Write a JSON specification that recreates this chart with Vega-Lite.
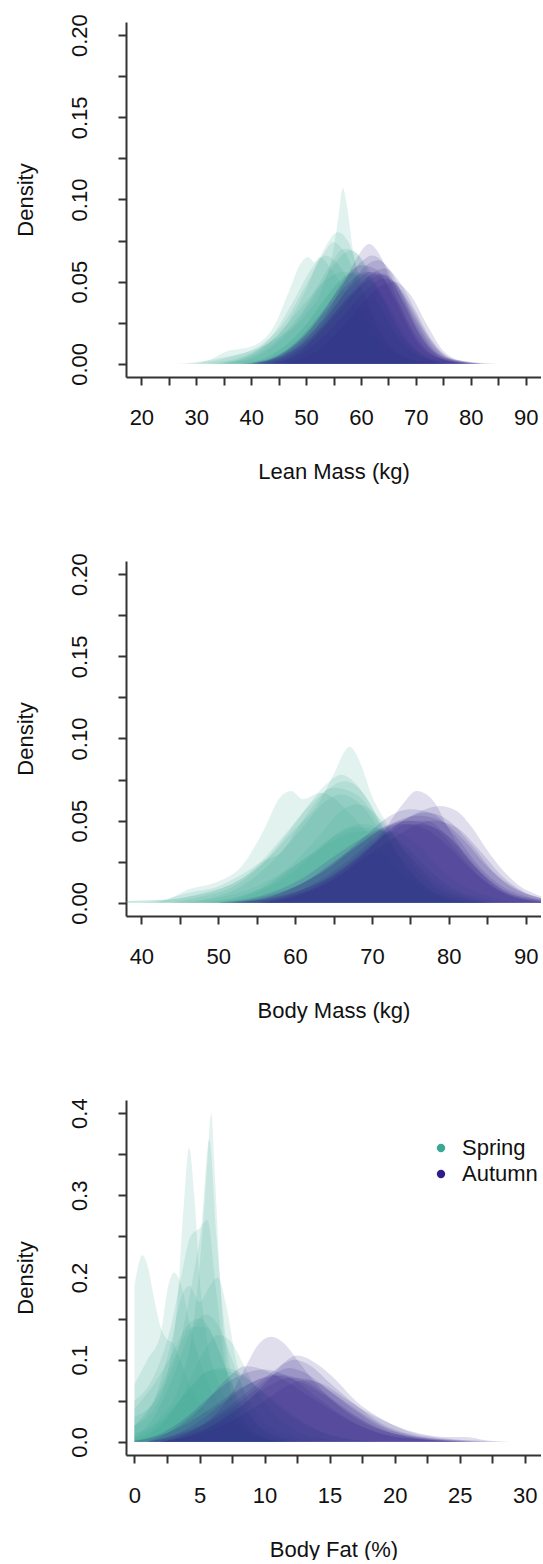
{
"$schema": "https://vega.github.io/schema/vega-lite/v6.json",
"background": "white",
"padding": {"left": 14, "top": 13, "right": 0, "bottom": 0},
"spacing": 184,
"bounds": "flush",
"resolve": {"scale": {"color": "independent", "x": "independent", "y": "independent"}, "legend": {"color": "independent"}},
"datasets": {
"lean": [
{"id":"S1","season":"Spring","x":26,"d":0},{"id":"S1","season":"Spring","x":30,"d":0.001},{"id":"S1","season":"Spring","x":35,"d":0.004},{"id":"S1","season":"Spring","x":40,"d":0.008},{"id":"S1","season":"Spring","x":45,"d":0.016},{"id":"S1","season":"Spring","x":50,"d":0.03},{"id":"S1","season":"Spring","x":53,"d":0.046},{"id":"S1","season":"Spring","x":55,"d":0.07},{"id":"S1","season":"Spring","x":56,"d":0.092},{"id":"S1","season":"Spring","x":56.7,"d":0.107},{"id":"S1","season":"Spring","x":57.5,"d":0.095},{"id":"S1","season":"Spring","x":58.5,"d":0.07},{"id":"S1","season":"Spring","x":60,"d":0.048},{"id":"S1","season":"Spring","x":62,"d":0.034},{"id":"S1","season":"Spring","x":65,"d":0.02},{"id":"S1","season":"Spring","x":68,"d":0.01},{"id":"S1","season":"Spring","x":72,"d":0.004},{"id":"S1","season":"Spring","x":78,"d":0.001},{"id":"S1","season":"Spring","x":82,"d":0},
{"id":"S2","season":"Spring","x":28,"d":0},{"id":"S2","season":"Spring","x":32,"d":0.002},{"id":"S2","season":"Spring","x":36,"d":0.008},{"id":"S2","season":"Spring","x":38,"d":0.009},{"id":"S2","season":"Spring","x":41,"d":0.012},{"id":"S2","season":"Spring","x":44,"d":0.022},{"id":"S2","season":"Spring","x":47,"d":0.045},{"id":"S2","season":"Spring","x":49,"d":0.061},{"id":"S2","season":"Spring","x":50.4,"d":0.065},{"id":"S2","season":"Spring","x":51.5,"d":0.062},{"id":"S2","season":"Spring","x":52.5,"d":0.065},{"id":"S2","season":"Spring","x":54.5,"d":0.058},{"id":"S2","season":"Spring","x":57,"d":0.045},{"id":"S2","season":"Spring","x":60,"d":0.03},{"id":"S2","season":"Spring","x":63,"d":0.015},{"id":"S2","season":"Spring","x":66,"d":0.007},{"id":"S2","season":"Spring","x":70,"d":0.002},{"id":"S2","season":"Spring","x":75,"d":0},
{"id":"S3","season":"Spring","x":32,"d":0},{"id":"S3","season":"Spring","x":38,"d":0.004},{"id":"S3","season":"Spring","x":42,"d":0.01},{"id":"S3","season":"Spring","x":46,"d":0.022},{"id":"S3","season":"Spring","x":50,"d":0.045},{"id":"S3","season":"Spring","x":53,"d":0.068},{"id":"S3","season":"Spring","x":55.8,"d":0.08},{"id":"S3","season":"Spring","x":58,"d":0.072},{"id":"S3","season":"Spring","x":60,"d":0.05},{"id":"S3","season":"Spring","x":62,"d":0.03},{"id":"S3","season":"Spring","x":65,"d":0.012},{"id":"S3","season":"Spring","x":68,"d":0.004},{"id":"S3","season":"Spring","x":72,"d":0},
{"id":"S4","season":"Spring","x":30,"d":0},{"id":"S4","season":"Spring","x":36,"d":0.004},{"id":"S4","season":"Spring","x":42,"d":0.012},{"id":"S4","season":"Spring","x":46,"d":0.025},{"id":"S4","season":"Spring","x":50,"d":0.048},{"id":"S4","season":"Spring","x":53,"d":0.066},{"id":"S4","season":"Spring","x":55,"d":0.074},{"id":"S4","season":"Spring","x":57,"d":0.068},{"id":"S4","season":"Spring","x":60,"d":0.045},{"id":"S4","season":"Spring","x":63,"d":0.022},{"id":"S4","season":"Spring","x":66,"d":0.008},{"id":"S4","season":"Spring","x":70,"d":0.002},{"id":"S4","season":"Spring","x":74,"d":0},
{"id":"S5","season":"Spring","x":34,"d":0},{"id":"S5","season":"Spring","x":40,"d":0.006},{"id":"S5","season":"Spring","x":44,"d":0.018},{"id":"S5","season":"Spring","x":48,"d":0.04},{"id":"S5","season":"Spring","x":51,"d":0.058},{"id":"S5","season":"Spring","x":53.5,"d":0.066},{"id":"S5","season":"Spring","x":56,"d":0.06},{"id":"S5","season":"Spring","x":59,"d":0.042},{"id":"S5","season":"Spring","x":62,"d":0.022},{"id":"S5","season":"Spring","x":65,"d":0.008},{"id":"S5","season":"Spring","x":70,"d":0},
{"id":"S6","season":"Spring","x":35,"d":0},{"id":"S6","season":"Spring","x":40,"d":0.004},{"id":"S6","season":"Spring","x":45,"d":0.015},{"id":"S6","season":"Spring","x":50,"d":0.035},{"id":"S6","season":"Spring","x":54,"d":0.058},{"id":"S6","season":"Spring","x":57,"d":0.07},{"id":"S6","season":"Spring","x":59,"d":0.068},{"id":"S6","season":"Spring","x":62,"d":0.05},{"id":"S6","season":"Spring","x":65,"d":0.028},{"id":"S6","season":"Spring","x":68,"d":0.012},{"id":"S6","season":"Spring","x":72,"d":0.003},{"id":"S6","season":"Spring","x":76,"d":0},
{"id":"S7","season":"Spring","x":36,"d":0},{"id":"S7","season":"Spring","x":42,"d":0.006},{"id":"S7","season":"Spring","x":47,"d":0.02},{"id":"S7","season":"Spring","x":51,"d":0.038},{"id":"S7","season":"Spring","x":55,"d":0.06},{"id":"S7","season":"Spring","x":58,"d":0.069},{"id":"S7","season":"Spring","x":61,"d":0.06},{"id":"S7","season":"Spring","x":64,"d":0.04},{"id":"S7","season":"Spring","x":67,"d":0.02},{"id":"S7","season":"Spring","x":70,"d":0.008},{"id":"S7","season":"Spring","x":75,"d":0},
{"id":"S8","season":"Spring","x":33,"d":0},{"id":"S8","season":"Spring","x":40,"d":0.005},{"id":"S8","season":"Spring","x":45,"d":0.018},{"id":"S8","season":"Spring","x":50,"d":0.038},{"id":"S8","season":"Spring","x":54,"d":0.052},{"id":"S8","season":"Spring","x":57,"d":0.056},{"id":"S8","season":"Spring","x":60,"d":0.052},{"id":"S8","season":"Spring","x":63,"d":0.038},{"id":"S8","season":"Spring","x":66,"d":0.02},{"id":"S8","season":"Spring","x":70,"d":0.006},{"id":"S8","season":"Spring","x":75,"d":0},
{"id":"S9","season":"Spring","x":38,"d":0},{"id":"S9","season":"Spring","x":44,"d":0.006},{"id":"S9","season":"Spring","x":48,"d":0.016},{"id":"S9","season":"Spring","x":52,"d":0.032},{"id":"S9","season":"Spring","x":55,"d":0.046},{"id":"S9","season":"Spring","x":58,"d":0.055},{"id":"S9","season":"Spring","x":61,"d":0.054},{"id":"S9","season":"Spring","x":64,"d":0.042},{"id":"S9","season":"Spring","x":67,"d":0.025},{"id":"S9","season":"Spring","x":70,"d":0.01},{"id":"S9","season":"Spring","x":74,"d":0.002},{"id":"S9","season":"Spring","x":78,"d":0},
{"id":"S10","season":"Spring","x":40,"d":0},{"id":"S10","season":"Spring","x":45,"d":0.008},{"id":"S10","season":"Spring","x":49,"d":0.02},{"id":"S10","season":"Spring","x":53,"d":0.038},{"id":"S10","season":"Spring","x":56,"d":0.05},{"id":"S10","season":"Spring","x":59,"d":0.056},{"id":"S10","season":"Spring","x":62,"d":0.05},{"id":"S10","season":"Spring","x":65,"d":0.034},{"id":"S10","season":"Spring","x":68,"d":0.016},{"id":"S10","season":"Spring","x":72,"d":0.004},{"id":"S10","season":"Spring","x":76,"d":0},
{"id":"A1","season":"Autumn","x":40,"d":0},{"id":"A1","season":"Autumn","x":45,"d":0.004},{"id":"A1","season":"Autumn","x":50,"d":0.015},{"id":"A1","season":"Autumn","x":54,"d":0.032},{"id":"A1","season":"Autumn","x":57,"d":0.05},{"id":"A1","season":"Autumn","x":59.5,"d":0.066},{"id":"A1","season":"Autumn","x":61.5,"d":0.073},{"id":"A1","season":"Autumn","x":63.5,"d":0.066},{"id":"A1","season":"Autumn","x":66,"d":0.045},{"id":"A1","season":"Autumn","x":69,"d":0.022},{"id":"A1","season":"Autumn","x":72,"d":0.008},{"id":"A1","season":"Autumn","x":76,"d":0.002},{"id":"A1","season":"Autumn","x":80,"d":0},
{"id":"A2","season":"Autumn","x":38,"d":0},{"id":"A2","season":"Autumn","x":44,"d":0.004},{"id":"A2","season":"Autumn","x":49,"d":0.016},{"id":"A2","season":"Autumn","x":53,"d":0.032},{"id":"A2","season":"Autumn","x":57,"d":0.05},{"id":"A2","season":"Autumn","x":60,"d":0.062},{"id":"A2","season":"Autumn","x":62,"d":0.066},{"id":"A2","season":"Autumn","x":64.5,"d":0.06},{"id":"A2","season":"Autumn","x":67,"d":0.042},{"id":"A2","season":"Autumn","x":70,"d":0.022},{"id":"A2","season":"Autumn","x":73,"d":0.008},{"id":"A2","season":"Autumn","x":77,"d":0.002},{"id":"A2","season":"Autumn","x":82,"d":0},
{"id":"A3","season":"Autumn","x":40,"d":0},{"id":"A3","season":"Autumn","x":46,"d":0.006},{"id":"A3","season":"Autumn","x":50,"d":0.016},{"id":"A3","season":"Autumn","x":54,"d":0.03},{"id":"A3","season":"Autumn","x":58,"d":0.048},{"id":"A3","season":"Autumn","x":61,"d":0.06},{"id":"A3","season":"Autumn","x":63,"d":0.063},{"id":"A3","season":"Autumn","x":65.5,"d":0.056},{"id":"A3","season":"Autumn","x":68,"d":0.038},{"id":"A3","season":"Autumn","x":71,"d":0.018},{"id":"A3","season":"Autumn","x":74,"d":0.006},{"id":"A3","season":"Autumn","x":78,"d":0.002},{"id":"A3","season":"Autumn","x":85,"d":0},
{"id":"A4","season":"Autumn","x":42,"d":0},{"id":"A4","season":"Autumn","x":47,"d":0.005},{"id":"A4","season":"Autumn","x":51,"d":0.014},{"id":"A4","season":"Autumn","x":55,"d":0.028},{"id":"A4","season":"Autumn","x":59,"d":0.044},{"id":"A4","season":"Autumn","x":62,"d":0.055},{"id":"A4","season":"Autumn","x":64.5,"d":0.058},{"id":"A4","season":"Autumn","x":67,"d":0.05},{"id":"A4","season":"Autumn","x":70,"d":0.032},{"id":"A4","season":"Autumn","x":73,"d":0.014},{"id":"A4","season":"Autumn","x":76,"d":0.004},{"id":"A4","season":"Autumn","x":80,"d":0.001},{"id":"A4","season":"Autumn","x":85,"d":0},
{"id":"A5","season":"Autumn","x":40,"d":0},{"id":"A5","season":"Autumn","x":45,"d":0.005},{"id":"A5","season":"Autumn","x":50,"d":0.018},{"id":"A5","season":"Autumn","x":54,"d":0.036},{"id":"A5","season":"Autumn","x":57,"d":0.052},{"id":"A5","season":"Autumn","x":60,"d":0.06},{"id":"A5","season":"Autumn","x":63,"d":0.057},{"id":"A5","season":"Autumn","x":66,"d":0.04},{"id":"A5","season":"Autumn","x":69,"d":0.02},{"id":"A5","season":"Autumn","x":72,"d":0.007},{"id":"A5","season":"Autumn","x":76,"d":0.002},{"id":"A5","season":"Autumn","x":80,"d":0},
{"id":"A6","season":"Autumn","x":44,"d":0},{"id":"A6","season":"Autumn","x":49,"d":0.006},{"id":"A6","season":"Autumn","x":53,"d":0.016},{"id":"A6","season":"Autumn","x":57,"d":0.03},{"id":"A6","season":"Autumn","x":61,"d":0.045},{"id":"A6","season":"Autumn","x":64,"d":0.052},{"id":"A6","season":"Autumn","x":66,"d":0.05},{"id":"A6","season":"Autumn","x":69,"d":0.036},{"id":"A6","season":"Autumn","x":72,"d":0.018},{"id":"A6","season":"Autumn","x":75,"d":0.006},{"id":"A6","season":"Autumn","x":79,"d":0.001},{"id":"A6","season":"Autumn","x":84,"d":0},
{"id":"A7","season":"Autumn","x":41,"d":0},{"id":"A7","season":"Autumn","x":46,"d":0.005},{"id":"A7","season":"Autumn","x":51,"d":0.016},{"id":"A7","season":"Autumn","x":55,"d":0.03},{"id":"A7","season":"Autumn","x":59,"d":0.046},{"id":"A7","season":"Autumn","x":62,"d":0.054},{"id":"A7","season":"Autumn","x":64,"d":0.055},{"id":"A7","season":"Autumn","x":67,"d":0.045},{"id":"A7","season":"Autumn","x":70,"d":0.026},{"id":"A7","season":"Autumn","x":73,"d":0.01},{"id":"A7","season":"Autumn","x":77,"d":0.002},{"id":"A7","season":"Autumn","x":82,"d":0},
{"id":"A8","season":"Autumn","x":39,"d":0},{"id":"A8","season":"Autumn","x":45,"d":0.005},{"id":"A8","season":"Autumn","x":50,"d":0.018},{"id":"A8","season":"Autumn","x":54,"d":0.034},{"id":"A8","season":"Autumn","x":58,"d":0.05},{"id":"A8","season":"Autumn","x":61,"d":0.056},{"id":"A8","season":"Autumn","x":64,"d":0.052},{"id":"A8","season":"Autumn","x":67,"d":0.036},{"id":"A8","season":"Autumn","x":70,"d":0.018},{"id":"A8","season":"Autumn","x":73,"d":0.006},{"id":"A8","season":"Autumn","x":77,"d":0.001},{"id":"A8","season":"Autumn","x":80,"d":0},
{"id":"A9","season":"Autumn","x":42,"d":0},{"id":"A9","season":"Autumn","x":47,"d":0.006},{"id":"A9","season":"Autumn","x":52,"d":0.02},{"id":"A9","season":"Autumn","x":56,"d":0.038},{"id":"A9","season":"Autumn","x":59,"d":0.05},{"id":"A9","season":"Autumn","x":62,"d":0.056},{"id":"A9","season":"Autumn","x":65,"d":0.052},{"id":"A9","season":"Autumn","x":68,"d":0.036},{"id":"A9","season":"Autumn","x":71,"d":0.016},{"id":"A9","season":"Autumn","x":74,"d":0.005},{"id":"A9","season":"Autumn","x":78,"d":0},
{"id":"A10","season":"Autumn","x":44,"d":0},{"id":"A10","season":"Autumn","x":49,"d":0.008},{"id":"A10","season":"Autumn","x":53,"d":0.022},{"id":"A10","season":"Autumn","x":57,"d":0.038},{"id":"A10","season":"Autumn","x":61,"d":0.05},{"id":"A10","season":"Autumn","x":64,"d":0.054},{"id":"A10","season":"Autumn","x":67,"d":0.046},{"id":"A10","season":"Autumn","x":70,"d":0.028},{"id":"A10","season":"Autumn","x":73,"d":0.012},{"id":"A10","season":"Autumn","x":76,"d":0.003},{"id":"A10","season":"Autumn","x":80,"d":0},
{"id":"A11","season":"Autumn","x":46,"d":0},{"id":"A11","season":"Autumn","x":52,"d":0.008},{"id":"A11","season":"Autumn","x":56,"d":0.02},{"id":"A11","season":"Autumn","x":60,"d":0.036},{"id":"A11","season":"Autumn","x":63,"d":0.046},{"id":"A11","season":"Autumn","x":66,"d":0.05},{"id":"A11","season":"Autumn","x":69,"d":0.042},{"id":"A11","season":"Autumn","x":72,"d":0.024},{"id":"A11","season":"Autumn","x":75,"d":0.008},{"id":"A11","season":"Autumn","x":78,"d":0.002},{"id":"A11","season":"Autumn","x":82,"d":0}
],
"body": [
{"id":"S1","season":"Spring","x":36,"d":0.001},{"id":"S1","season":"Spring","x":44,"d":0.002},{"id":"S1","season":"Spring","x":48,"d":0.006},{"id":"S1","season":"Spring","x":52,"d":0.012},{"id":"S1","season":"Spring","x":56,"d":0.025},{"id":"S1","season":"Spring","x":60,"d":0.045},{"id":"S1","season":"Spring","x":63,"d":0.06},{"id":"S1","season":"Spring","x":65,"d":0.078},{"id":"S1","season":"Spring","x":67.1,"d":0.095},{"id":"S1","season":"Spring","x":68.5,"d":0.085},{"id":"S1","season":"Spring","x":70,"d":0.065},{"id":"S1","season":"Spring","x":72,"d":0.048},{"id":"S1","season":"Spring","x":75,"d":0.025},{"id":"S1","season":"Spring","x":78,"d":0.01},{"id":"S1","season":"Spring","x":82,"d":0.003},{"id":"S1","season":"Spring","x":86,"d":0},
{"id":"S2","season":"Spring","x":36,"d":0.001},{"id":"S2","season":"Spring","x":43,"d":0.002},{"id":"S2","season":"Spring","x":46,"d":0.008},{"id":"S2","season":"Spring","x":50,"d":0.013},{"id":"S2","season":"Spring","x":53,"d":0.022},{"id":"S2","season":"Spring","x":56,"d":0.045},{"id":"S2","season":"Spring","x":58,"d":0.064},{"id":"S2","season":"Spring","x":59.5,"d":0.068},{"id":"S2","season":"Spring","x":61,"d":0.063},{"id":"S2","season":"Spring","x":63.3,"d":0.067},{"id":"S2","season":"Spring","x":65,"d":0.064},{"id":"S2","season":"Spring","x":67,"d":0.055},{"id":"S2","season":"Spring","x":69,"d":0.045},{"id":"S2","season":"Spring","x":72,"d":0.028},{"id":"S2","season":"Spring","x":75,"d":0.014},{"id":"S2","season":"Spring","x":78,"d":0.005},{"id":"S2","season":"Spring","x":82,"d":0.001},{"id":"S2","season":"Spring","x":86,"d":0},
{"id":"S3","season":"Spring","x":40,"d":0},{"id":"S3","season":"Spring","x":45,"d":0.003},{"id":"S3","season":"Spring","x":50,"d":0.008},{"id":"S3","season":"Spring","x":54,"d":0.018},{"id":"S3","season":"Spring","x":58,"d":0.038},{"id":"S3","season":"Spring","x":61,"d":0.055},{"id":"S3","season":"Spring","x":64,"d":0.072},{"id":"S3","season":"Spring","x":66,"d":0.078},{"id":"S3","season":"Spring","x":68,"d":0.072},{"id":"S3","season":"Spring","x":70,"d":0.058},{"id":"S3","season":"Spring","x":72,"d":0.04},{"id":"S3","season":"Spring","x":75,"d":0.018},{"id":"S3","season":"Spring","x":78,"d":0.006},{"id":"S3","season":"Spring","x":82,"d":0},
{"id":"S4","season":"Spring","x":42,"d":0},{"id":"S4","season":"Spring","x":46,"d":0.006},{"id":"S4","season":"Spring","x":50,"d":0.01},{"id":"S4","season":"Spring","x":54,"d":0.02},{"id":"S4","season":"Spring","x":56,"d":0.026},{"id":"S4","season":"Spring","x":58,"d":0.03},{"id":"S4","season":"Spring","x":61,"d":0.05},{"id":"S4","season":"Spring","x":64,"d":0.068},{"id":"S4","season":"Spring","x":66.5,"d":0.074},{"id":"S4","season":"Spring","x":69,"d":0.066},{"id":"S4","season":"Spring","x":71,"d":0.05},{"id":"S4","season":"Spring","x":74,"d":0.026},{"id":"S4","season":"Spring","x":77,"d":0.01},{"id":"S4","season":"Spring","x":81,"d":0.002},{"id":"S4","season":"Spring","x":85,"d":0},
{"id":"S5","season":"Spring","x":44,"d":0},{"id":"S5","season":"Spring","x":48,"d":0.004},{"id":"S5","season":"Spring","x":52,"d":0.01},{"id":"S5","season":"Spring","x":56,"d":0.025},{"id":"S5","season":"Spring","x":59,"d":0.042},{"id":"S5","season":"Spring","x":62,"d":0.06},{"id":"S5","season":"Spring","x":65,"d":0.07},{"id":"S5","season":"Spring","x":68,"d":0.066},{"id":"S5","season":"Spring","x":71,"d":0.048},{"id":"S5","season":"Spring","x":74,"d":0.025},{"id":"S5","season":"Spring","x":77,"d":0.01},{"id":"S5","season":"Spring","x":81,"d":0.002},{"id":"S5","season":"Spring","x":85,"d":0},
{"id":"S6","season":"Spring","x":48,"d":0},{"id":"S6","season":"Spring","x":52,"d":0.003},{"id":"S6","season":"Spring","x":56,"d":0.01},{"id":"S6","season":"Spring","x":60,"d":0.025},{"id":"S6","season":"Spring","x":63,"d":0.04},{"id":"S6","season":"Spring","x":66,"d":0.056},{"id":"S6","season":"Spring","x":68,"d":0.06},{"id":"S6","season":"Spring","x":70,"d":0.056},{"id":"S6","season":"Spring","x":72,"d":0.046},{"id":"S6","season":"Spring","x":75,"d":0.028},{"id":"S6","season":"Spring","x":78,"d":0.012},{"id":"S6","season":"Spring","x":82,"d":0.003},{"id":"S6","season":"Spring","x":86,"d":0},
{"id":"S7","season":"Spring","x":46,"d":0},{"id":"S7","season":"Spring","x":50,"d":0.003},{"id":"S7","season":"Spring","x":55,"d":0.01},{"id":"S7","season":"Spring","x":59,"d":0.02},{"id":"S7","season":"Spring","x":63,"d":0.032},{"id":"S7","season":"Spring","x":67,"d":0.042},{"id":"S7","season":"Spring","x":70,"d":0.044},{"id":"S7","season":"Spring","x":73,"d":0.043},{"id":"S7","season":"Spring","x":76,"d":0.035},{"id":"S7","season":"Spring","x":79,"d":0.02},{"id":"S7","season":"Spring","x":82,"d":0.01},{"id":"S7","season":"Spring","x":86,"d":0.003},{"id":"S7","season":"Spring","x":90,"d":0},
{"id":"S8","season":"Spring","x":44,"d":0},{"id":"S8","season":"Spring","x":49,"d":0.003},{"id":"S8","season":"Spring","x":53,"d":0.01},{"id":"S8","season":"Spring","x":57,"d":0.025},{"id":"S8","season":"Spring","x":61,"d":0.046},{"id":"S8","season":"Spring","x":64,"d":0.062},{"id":"S8","season":"Spring","x":66,"d":0.066},{"id":"S8","season":"Spring","x":68,"d":0.062},{"id":"S8","season":"Spring","x":71,"d":0.045},{"id":"S8","season":"Spring","x":74,"d":0.024},{"id":"S8","season":"Spring","x":77,"d":0.01},{"id":"S8","season":"Spring","x":81,"d":0.002},{"id":"S8","season":"Spring","x":85,"d":0},
{"id":"S9","season":"Spring","x":48,"d":0},{"id":"S9","season":"Spring","x":53,"d":0.004},{"id":"S9","season":"Spring","x":57,"d":0.012},{"id":"S9","season":"Spring","x":61,"d":0.026},{"id":"S9","season":"Spring","x":65,"d":0.04},{"id":"S9","season":"Spring","x":68,"d":0.046},{"id":"S9","season":"Spring","x":71,"d":0.045},{"id":"S9","season":"Spring","x":74,"d":0.036},{"id":"S9","season":"Spring","x":77,"d":0.022},{"id":"S9","season":"Spring","x":80,"d":0.01},{"id":"S9","season":"Spring","x":84,"d":0.003},{"id":"S9","season":"Spring","x":88,"d":0},
{"id":"S10","season":"Spring","x":50,"d":0},{"id":"S10","season":"Spring","x":55,"d":0.006},{"id":"S10","season":"Spring","x":59,"d":0.016},{"id":"S10","season":"Spring","x":63,"d":0.032},{"id":"S10","season":"Spring","x":66,"d":0.044},{"id":"S10","season":"Spring","x":69,"d":0.048},{"id":"S10","season":"Spring","x":72,"d":0.042},{"id":"S10","season":"Spring","x":75,"d":0.028},{"id":"S10","season":"Spring","x":78,"d":0.014},{"id":"S10","season":"Spring","x":82,"d":0.004},{"id":"S10","season":"Spring","x":86,"d":0},
{"id":"A1","season":"Autumn","x":52,"d":0},{"id":"A1","season":"Autumn","x":58,"d":0.004},{"id":"A1","season":"Autumn","x":62,"d":0.01},{"id":"A1","season":"Autumn","x":66,"d":0.02},{"id":"A1","season":"Autumn","x":70,"d":0.035},{"id":"A1","season":"Autumn","x":74,"d":0.05},{"id":"A1","season":"Autumn","x":77,"d":0.057},{"id":"A1","season":"Autumn","x":78.8,"d":0.059},{"id":"A1","season":"Autumn","x":81,"d":0.056},{"id":"A1","season":"Autumn","x":83,"d":0.046},{"id":"A1","season":"Autumn","x":85,"d":0.032},{"id":"A1","season":"Autumn","x":87,"d":0.02},{"id":"A1","season":"Autumn","x":89,"d":0.011},{"id":"A1","season":"Autumn","x":92,"d":0.004},{"id":"A1","season":"Autumn","x":95,"d":0},
{"id":"A2","season":"Autumn","x":54,"d":0},{"id":"A2","season":"Autumn","x":60,"d":0.005},{"id":"A2","season":"Autumn","x":64,"d":0.012},{"id":"A2","season":"Autumn","x":68,"d":0.025},{"id":"A2","season":"Autumn","x":71,"d":0.04},{"id":"A2","season":"Autumn","x":74,"d":0.06},{"id":"A2","season":"Autumn","x":75.8,"d":0.068},{"id":"A2","season":"Autumn","x":78,"d":0.062},{"id":"A2","season":"Autumn","x":80,"d":0.045},{"id":"A2","season":"Autumn","x":82,"d":0.03},{"id":"A2","season":"Autumn","x":85,"d":0.015},{"id":"A2","season":"Autumn","x":88,"d":0.006},{"id":"A2","season":"Autumn","x":92,"d":0.002},{"id":"A2","season":"Autumn","x":95,"d":0},
{"id":"A3","season":"Autumn","x":50,"d":0},{"id":"A3","season":"Autumn","x":56,"d":0.004},{"id":"A3","season":"Autumn","x":61,"d":0.012},{"id":"A3","season":"Autumn","x":65,"d":0.024},{"id":"A3","season":"Autumn","x":69,"d":0.04},{"id":"A3","season":"Autumn","x":72,"d":0.052},{"id":"A3","season":"Autumn","x":75,"d":0.057},{"id":"A3","season":"Autumn","x":78,"d":0.054},{"id":"A3","season":"Autumn","x":81,"d":0.04},{"id":"A3","season":"Autumn","x":84,"d":0.022},{"id":"A3","season":"Autumn","x":87,"d":0.01},{"id":"A3","season":"Autumn","x":90,"d":0.004},{"id":"A3","season":"Autumn","x":94,"d":0},
{"id":"A4","season":"Autumn","x":52,"d":0},{"id":"A4","season":"Autumn","x":58,"d":0.004},{"id":"A4","season":"Autumn","x":63,"d":0.012},{"id":"A4","season":"Autumn","x":67,"d":0.024},{"id":"A4","season":"Autumn","x":71,"d":0.04},{"id":"A4","season":"Autumn","x":74,"d":0.05},{"id":"A4","season":"Autumn","x":77,"d":0.055},{"id":"A4","season":"Autumn","x":80,"d":0.05},{"id":"A4","season":"Autumn","x":83,"d":0.035},{"id":"A4","season":"Autumn","x":86,"d":0.018},{"id":"A4","season":"Autumn","x":89,"d":0.008},{"id":"A4","season":"Autumn","x":92,"d":0.003},{"id":"A4","season":"Autumn","x":95,"d":0},
{"id":"A5","season":"Autumn","x":50,"d":0},{"id":"A5","season":"Autumn","x":56,"d":0.005},{"id":"A5","season":"Autumn","x":61,"d":0.015},{"id":"A5","season":"Autumn","x":65,"d":0.028},{"id":"A5","season":"Autumn","x":69,"d":0.04},{"id":"A5","season":"Autumn","x":72,"d":0.047},{"id":"A5","season":"Autumn","x":75,"d":0.05},{"id":"A5","season":"Autumn","x":78,"d":0.046},{"id":"A5","season":"Autumn","x":81,"d":0.032},{"id":"A5","season":"Autumn","x":84,"d":0.016},{"id":"A5","season":"Autumn","x":87,"d":0.006},{"id":"A5","season":"Autumn","x":91,"d":0.001},{"id":"A5","season":"Autumn","x":95,"d":0},
{"id":"A6","season":"Autumn","x":52,"d":0},{"id":"A6","season":"Autumn","x":57,"d":0.004},{"id":"A6","season":"Autumn","x":61,"d":0.012},{"id":"A6","season":"Autumn","x":65,"d":0.025},{"id":"A6","season":"Autumn","x":69,"d":0.038},{"id":"A6","season":"Autumn","x":72,"d":0.046},{"id":"A6","season":"Autumn","x":74,"d":0.048},{"id":"A6","season":"Autumn","x":77,"d":0.045},{"id":"A6","season":"Autumn","x":80,"d":0.034},{"id":"A6","season":"Autumn","x":83,"d":0.02},{"id":"A6","season":"Autumn","x":86,"d":0.009},{"id":"A6","season":"Autumn","x":90,"d":0.002},{"id":"A6","season":"Autumn","x":94,"d":0},
{"id":"A7","season":"Autumn","x":50,"d":0},{"id":"A7","season":"Autumn","x":56,"d":0.003},{"id":"A7","season":"Autumn","x":60,"d":0.01},{"id":"A7","season":"Autumn","x":64,"d":0.02},{"id":"A7","season":"Autumn","x":68,"d":0.034},{"id":"A7","season":"Autumn","x":72,"d":0.047},{"id":"A7","season":"Autumn","x":76,"d":0.053},{"id":"A7","season":"Autumn","x":79,"d":0.05},{"id":"A7","season":"Autumn","x":82,"d":0.038},{"id":"A7","season":"Autumn","x":85,"d":0.022},{"id":"A7","season":"Autumn","x":88,"d":0.01},{"id":"A7","season":"Autumn","x":91,"d":0.004},{"id":"A7","season":"Autumn","x":95,"d":0},
{"id":"A8","season":"Autumn","x":56,"d":0},{"id":"A8","season":"Autumn","x":61,"d":0.005},{"id":"A8","season":"Autumn","x":65,"d":0.014},{"id":"A8","season":"Autumn","x":69,"d":0.027},{"id":"A8","season":"Autumn","x":73,"d":0.04},{"id":"A8","season":"Autumn","x":76,"d":0.048},{"id":"A8","season":"Autumn","x":78,"d":0.05},{"id":"A8","season":"Autumn","x":81,"d":0.046},{"id":"A8","season":"Autumn","x":84,"d":0.032},{"id":"A8","season":"Autumn","x":87,"d":0.016},{"id":"A8","season":"Autumn","x":90,"d":0.006},{"id":"A8","season":"Autumn","x":93,"d":0.002},{"id":"A8","season":"Autumn","x":96,"d":0},
{"id":"A9","season":"Autumn","x":55,"d":0},{"id":"A9","season":"Autumn","x":60,"d":0.006},{"id":"A9","season":"Autumn","x":64,"d":0.016},{"id":"A9","season":"Autumn","x":68,"d":0.03},{"id":"A9","season":"Autumn","x":71,"d":0.042},{"id":"A9","season":"Autumn","x":74,"d":0.05},{"id":"A9","season":"Autumn","x":77,"d":0.05},{"id":"A9","season":"Autumn","x":80,"d":0.04},{"id":"A9","season":"Autumn","x":83,"d":0.024},{"id":"A9","season":"Autumn","x":86,"d":0.01},{"id":"A9","season":"Autumn","x":90,"d":0.002},{"id":"A9","season":"Autumn","x":94,"d":0},
{"id":"A10","season":"Autumn","x":56,"d":0},{"id":"A10","season":"Autumn","x":61,"d":0.006},{"id":"A10","season":"Autumn","x":65,"d":0.016},{"id":"A10","season":"Autumn","x":69,"d":0.03},{"id":"A10","season":"Autumn","x":72,"d":0.042},{"id":"A10","season":"Autumn","x":75,"d":0.048},{"id":"A10","season":"Autumn","x":78,"d":0.046},{"id":"A10","season":"Autumn","x":81,"d":0.036},{"id":"A10","season":"Autumn","x":84,"d":0.02},{"id":"A10","season":"Autumn","x":87,"d":0.008},{"id":"A10","season":"Autumn","x":91,"d":0.002},{"id":"A10","season":"Autumn","x":95,"d":0}
],
"fat": [
{"id":"S01","season":"Spring","x":0,"d":0.19},{"id":"S01","season":"Spring","x":0.3,"d":0.215},{"id":"S01","season":"Spring","x":0.6,"d":0.227},{"id":"S01","season":"Spring","x":1,"d":0.215},{"id":"S01","season":"Spring","x":1.5,"d":0.175},{"id":"S01","season":"Spring","x":2,"d":0.14},{"id":"S01","season":"Spring","x":2.5,"d":0.125},{"id":"S01","season":"Spring","x":3,"d":0.12},{"id":"S01","season":"Spring","x":3.5,"d":0.1},{"id":"S01","season":"Spring","x":4.5,"d":0.06},{"id":"S01","season":"Spring","x":6,"d":0.03},{"id":"S01","season":"Spring","x":8,"d":0.01},{"id":"S01","season":"Spring","x":10,"d":0.003},{"id":"S01","season":"Spring","x":12,"d":0},
{"id":"S02","season":"Spring","x":0,"d":0.07},{"id":"S02","season":"Spring","x":1,"d":0.1},{"id":"S02","season":"Spring","x":2,"d":0.13},{"id":"S02","season":"Spring","x":2.6,"d":0.19},{"id":"S02","season":"Spring","x":3.05,"d":0.206},{"id":"S02","season":"Spring","x":3.6,"d":0.19},{"id":"S02","season":"Spring","x":4.3,"d":0.14},{"id":"S02","season":"Spring","x":5,"d":0.1},{"id":"S02","season":"Spring","x":6,"d":0.06},{"id":"S02","season":"Spring","x":7.5,"d":0.025},{"id":"S02","season":"Spring","x":9,"d":0.008},{"id":"S02","season":"Spring","x":11,"d":0},
{"id":"S03","season":"Spring","x":0,"d":0.02},{"id":"S03","season":"Spring","x":1.5,"d":0.04},{"id":"S03","season":"Spring","x":2.5,"d":0.08},{"id":"S03","season":"Spring","x":3.3,"d":0.17},{"id":"S03","season":"Spring","x":3.8,"d":0.29},{"id":"S03","season":"Spring","x":4.2,"d":0.358},{"id":"S03","season":"Spring","x":4.6,"d":0.3},{"id":"S03","season":"Spring","x":5,"d":0.2},{"id":"S03","season":"Spring","x":5.5,"d":0.13},{"id":"S03","season":"Spring","x":6.5,"d":0.07},{"id":"S03","season":"Spring","x":8,"d":0.025},{"id":"S03","season":"Spring","x":10,"d":0.005},{"id":"S03","season":"Spring","x":12,"d":0},
{"id":"S04","season":"Spring","x":0,"d":0.01},{"id":"S04","season":"Spring","x":2,"d":0.03},{"id":"S04","season":"Spring","x":3.5,"d":0.07},{"id":"S04","season":"Spring","x":4.5,"d":0.14},{"id":"S04","season":"Spring","x":5.2,"d":0.25},{"id":"S04","season":"Spring","x":5.6,"d":0.34},{"id":"S04","season":"Spring","x":5.9,"d":0.4},{"id":"S04","season":"Spring","x":6.2,"d":0.32},{"id":"S04","season":"Spring","x":6.6,"d":0.19},{"id":"S04","season":"Spring","x":7.2,"d":0.08},{"id":"S04","season":"Spring","x":8,"d":0.03},{"id":"S04","season":"Spring","x":9.5,"d":0.008},{"id":"S04","season":"Spring","x":11,"d":0},
{"id":"S05","season":"Spring","x":0,"d":0.03},{"id":"S05","season":"Spring","x":2,"d":0.06},{"id":"S05","season":"Spring","x":3.5,"d":0.12},{"id":"S05","season":"Spring","x":4.5,"d":0.2},{"id":"S05","season":"Spring","x":5.2,"d":0.27},{"id":"S05","season":"Spring","x":5.75,"d":0.368},{"id":"S05","season":"Spring","x":6.3,"d":0.25},{"id":"S05","season":"Spring","x":7,"d":0.13},{"id":"S05","season":"Spring","x":7.7,"d":0.06},{"id":"S05","season":"Spring","x":8.5,"d":0.025},{"id":"S05","season":"Spring","x":10,"d":0.006},{"id":"S05","season":"Spring","x":12,"d":0},
{"id":"S06","season":"Spring","x":0,"d":0.05},{"id":"S06","season":"Spring","x":1.5,"d":0.08},{"id":"S06","season":"Spring","x":2.8,"d":0.14},{"id":"S06","season":"Spring","x":3.7,"d":0.21},{"id":"S06","season":"Spring","x":4.3,"d":0.25},{"id":"S06","season":"Spring","x":5,"d":0.26},{"id":"S06","season":"Spring","x":5.6,"d":0.27},{"id":"S06","season":"Spring","x":6.3,"d":0.18},{"id":"S06","season":"Spring","x":7,"d":0.09},{"id":"S06","season":"Spring","x":8,"d":0.04},{"id":"S06","season":"Spring","x":9.5,"d":0.01},{"id":"S06","season":"Spring","x":11,"d":0},
{"id":"S07","season":"Spring","x":0,"d":0.02},{"id":"S07","season":"Spring","x":1.5,"d":0.05},{"id":"S07","season":"Spring","x":2.8,"d":0.12},{"id":"S07","season":"Spring","x":3.7,"d":0.18},{"id":"S07","season":"Spring","x":4.2,"d":0.19},{"id":"S07","season":"Spring","x":5,"d":0.17},{"id":"S07","season":"Spring","x":5.8,"d":0.19},{"id":"S07","season":"Spring","x":6.4,"d":0.2},{"id":"S07","season":"Spring","x":7,"d":0.17},{"id":"S07","season":"Spring","x":7.8,"d":0.1},{"id":"S07","season":"Spring","x":8.8,"d":0.04},{"id":"S07","season":"Spring","x":10,"d":0.012},{"id":"S07","season":"Spring","x":12,"d":0},
{"id":"S08","season":"Spring","x":0,"d":0.005},{"id":"S08","season":"Spring","x":1.5,"d":0.03},{"id":"S08","season":"Spring","x":3,"d":0.08},{"id":"S08","season":"Spring","x":4.2,"d":0.13},{"id":"S08","season":"Spring","x":5.5,"d":0.155},{"id":"S08","season":"Spring","x":6.5,"d":0.14},{"id":"S08","season":"Spring","x":7.5,"d":0.1},{"id":"S08","season":"Spring","x":8.5,"d":0.06},{"id":"S08","season":"Spring","x":10,"d":0.025},{"id":"S08","season":"Spring","x":12,"d":0.008},{"id":"S08","season":"Spring","x":14,"d":0},
{"id":"S09","season":"Spring","x":0,"d":0.002},{"id":"S09","season":"Spring","x":2,"d":0.02},{"id":"S09","season":"Spring","x":3.5,"d":0.05},{"id":"S09","season":"Spring","x":5,"d":0.1},{"id":"S09","season":"Spring","x":6.5,"d":0.13},{"id":"S09","season":"Spring","x":7.5,"d":0.12},{"id":"S09","season":"Spring","x":8.5,"d":0.09},{"id":"S09","season":"Spring","x":9.5,"d":0.06},{"id":"S09","season":"Spring","x":11,"d":0.03},{"id":"S09","season":"Spring","x":13,"d":0.01},{"id":"S09","season":"Spring","x":15,"d":0.003},{"id":"S09","season":"Spring","x":17,"d":0},
{"id":"S10","season":"Spring","x":0,"d":0.001},{"id":"S10","season":"Spring","x":2,"d":0.02},{"id":"S10","season":"Spring","x":4,"d":0.06},{"id":"S10","season":"Spring","x":6,"d":0.088},{"id":"S10","season":"Spring","x":8,"d":0.082},{"id":"S10","season":"Spring","x":10,"d":0.06},{"id":"S10","season":"Spring","x":12,"d":0.035},{"id":"S10","season":"Spring","x":14,"d":0.015},{"id":"S10","season":"Spring","x":16,"d":0.005},{"id":"S10","season":"Spring","x":19,"d":0},
{"id":"S11","season":"Spring","x":0,"d":0.04},{"id":"S11","season":"Spring","x":1.5,"d":0.07},{"id":"S11","season":"Spring","x":3,"d":0.11},{"id":"S11","season":"Spring","x":4,"d":0.14},{"id":"S11","season":"Spring","x":5,"d":0.15},{"id":"S11","season":"Spring","x":6,"d":0.13},{"id":"S11","season":"Spring","x":7,"d":0.09},{"id":"S11","season":"Spring","x":8,"d":0.05},{"id":"S11","season":"Spring","x":9.5,"d":0.02},{"id":"S11","season":"Spring","x":11,"d":0.006},{"id":"S11","season":"Spring","x":13,"d":0},
{"id":"S12","season":"Spring","x":0,"d":0.02},{"id":"S12","season":"Spring","x":1.5,"d":0.05},{"id":"S12","season":"Spring","x":3,"d":0.1},{"id":"S12","season":"Spring","x":4.5,"d":0.14},{"id":"S12","season":"Spring","x":5.5,"d":0.14},{"id":"S12","season":"Spring","x":6.5,"d":0.11},{"id":"S12","season":"Spring","x":7.5,"d":0.07},{"id":"S12","season":"Spring","x":9,"d":0.03},{"id":"S12","season":"Spring","x":11,"d":0.008},{"id":"S12","season":"Spring","x":13,"d":0},
{"id":"S13","season":"Spring","x":0,"d":0.004},{"id":"S13","season":"Spring","x":2,"d":0.025},{"id":"S13","season":"Spring","x":4,"d":0.06},{"id":"S13","season":"Spring","x":5.5,"d":0.085},{"id":"S13","season":"Spring","x":7,"d":0.09},{"id":"S13","season":"Spring","x":8.5,"d":0.08},{"id":"S13","season":"Spring","x":10,"d":0.058},{"id":"S13","season":"Spring","x":12,"d":0.032},{"id":"S13","season":"Spring","x":14,"d":0.014},{"id":"S13","season":"Spring","x":16,"d":0.004},{"id":"S13","season":"Spring","x":19,"d":0},
{"id":"A1","season":"Autumn","x":2,"d":0},{"id":"A1","season":"Autumn","x":4,"d":0.01},{"id":"A1","season":"Autumn","x":6,"d":0.03},{"id":"A1","season":"Autumn","x":7.5,"d":0.06},{"id":"A1","season":"Autumn","x":8.5,"d":0.09},{"id":"A1","season":"Autumn","x":9.5,"d":0.118},{"id":"A1","season":"Autumn","x":10.5,"d":0.128},{"id":"A1","season":"Autumn","x":11.5,"d":0.12},{"id":"A1","season":"Autumn","x":12.5,"d":0.1},{"id":"A1","season":"Autumn","x":14,"d":0.07},{"id":"A1","season":"Autumn","x":16,"d":0.04},{"id":"A1","season":"Autumn","x":18,"d":0.02},{"id":"A1","season":"Autumn","x":20,"d":0.01},{"id":"A1","season":"Autumn","x":23,"d":0.003},{"id":"A1","season":"Autumn","x":27,"d":0},
{"id":"A2","season":"Autumn","x":1,"d":0},{"id":"A2","season":"Autumn","x":3,"d":0.008},{"id":"A2","season":"Autumn","x":5,"d":0.02},{"id":"A2","season":"Autumn","x":7,"d":0.04},{"id":"A2","season":"Autumn","x":9,"d":0.065},{"id":"A2","season":"Autumn","x":11,"d":0.09},{"id":"A2","season":"Autumn","x":12.5,"d":0.105},{"id":"A2","season":"Autumn","x":14,"d":0.095},{"id":"A2","season":"Autumn","x":15.5,"d":0.075},{"id":"A2","season":"Autumn","x":17,"d":0.05},{"id":"A2","season":"Autumn","x":19,"d":0.028},{"id":"A2","season":"Autumn","x":21,"d":0.013},{"id":"A2","season":"Autumn","x":24,"d":0.004},{"id":"A2","season":"Autumn","x":27,"d":0.001},{"id":"A2","season":"Autumn","x":29,"d":0},
{"id":"A3","season":"Autumn","x":2,"d":0},{"id":"A3","season":"Autumn","x":4,"d":0.008},{"id":"A3","season":"Autumn","x":6,"d":0.02},{"id":"A3","season":"Autumn","x":8,"d":0.04},{"id":"A3","season":"Autumn","x":10,"d":0.07},{"id":"A3","season":"Autumn","x":11.5,"d":0.095},{"id":"A3","season":"Autumn","x":12.3,"d":0.1},{"id":"A3","season":"Autumn","x":13.5,"d":0.093},{"id":"A3","season":"Autumn","x":15,"d":0.072},{"id":"A3","season":"Autumn","x":17,"d":0.045},{"id":"A3","season":"Autumn","x":19,"d":0.022},{"id":"A3","season":"Autumn","x":21,"d":0.01},{"id":"A3","season":"Autumn","x":24,"d":0.003},{"id":"A3","season":"Autumn","x":28,"d":0},
{"id":"A4","season":"Autumn","x":1,"d":0},{"id":"A4","season":"Autumn","x":3,"d":0.015},{"id":"A4","season":"Autumn","x":5,"d":0.04},{"id":"A4","season":"Autumn","x":7,"d":0.075},{"id":"A4","season":"Autumn","x":8.5,"d":0.092},{"id":"A4","season":"Autumn","x":9.5,"d":0.09},{"id":"A4","season":"Autumn","x":11,"d":0.08},{"id":"A4","season":"Autumn","x":13,"d":0.06},{"id":"A4","season":"Autumn","x":15,"d":0.04},{"id":"A4","season":"Autumn","x":17,"d":0.022},{"id":"A4","season":"Autumn","x":19,"d":0.01},{"id":"A4","season":"Autumn","x":22,"d":0.003},{"id":"A4","season":"Autumn","x":25,"d":0},
{"id":"A5","season":"Autumn","x":0,"d":0.001},{"id":"A5","season":"Autumn","x":2,"d":0.01},{"id":"A5","season":"Autumn","x":4,"d":0.03},{"id":"A5","season":"Autumn","x":6,"d":0.058},{"id":"A5","season":"Autumn","x":8,"d":0.08},{"id":"A5","season":"Autumn","x":10,"d":0.088},{"id":"A5","season":"Autumn","x":12,"d":0.078},{"id":"A5","season":"Autumn","x":14,"d":0.055},{"id":"A5","season":"Autumn","x":16,"d":0.032},{"id":"A5","season":"Autumn","x":18,"d":0.015},{"id":"A5","season":"Autumn","x":20,"d":0.006},{"id":"A5","season":"Autumn","x":23,"d":0.002},{"id":"A5","season":"Autumn","x":26,"d":0},
{"id":"A6","season":"Autumn","x":1,"d":0},{"id":"A6","season":"Autumn","x":3,"d":0.006},{"id":"A6","season":"Autumn","x":5,"d":0.018},{"id":"A6","season":"Autumn","x":7,"d":0.036},{"id":"A6","season":"Autumn","x":9,"d":0.06},{"id":"A6","season":"Autumn","x":11,"d":0.085},{"id":"A6","season":"Autumn","x":11.8,"d":0.09},{"id":"A6","season":"Autumn","x":13,"d":0.085},{"id":"A6","season":"Autumn","x":15,"d":0.062},{"id":"A6","season":"Autumn","x":17,"d":0.038},{"id":"A6","season":"Autumn","x":19,"d":0.018},{"id":"A6","season":"Autumn","x":21,"d":0.008},{"id":"A6","season":"Autumn","x":24,"d":0.002},{"id":"A6","season":"Autumn","x":27,"d":0},
{"id":"A7","season":"Autumn","x":0,"d":0.001},{"id":"A7","season":"Autumn","x":2,"d":0.008},{"id":"A7","season":"Autumn","x":4,"d":0.022},{"id":"A7","season":"Autumn","x":6,"d":0.042},{"id":"A7","season":"Autumn","x":8,"d":0.064},{"id":"A7","season":"Autumn","x":10,"d":0.078},{"id":"A7","season":"Autumn","x":11,"d":0.08},{"id":"A7","season":"Autumn","x":12.5,"d":0.075},{"id":"A7","season":"Autumn","x":14.5,"d":0.058},{"id":"A7","season":"Autumn","x":16.5,"d":0.036},{"id":"A7","season":"Autumn","x":18.5,"d":0.018},{"id":"A7","season":"Autumn","x":21,"d":0.006},{"id":"A7","season":"Autumn","x":24,"d":0.001},{"id":"A7","season":"Autumn","x":26,"d":0},
{"id":"A8","season":"Autumn","x":2,"d":0},{"id":"A8","season":"Autumn","x":4,"d":0.005},{"id":"A8","season":"Autumn","x":6,"d":0.015},{"id":"A8","season":"Autumn","x":8,"d":0.03},{"id":"A8","season":"Autumn","x":10,"d":0.05},{"id":"A8","season":"Autumn","x":12,"d":0.07},{"id":"A8","season":"Autumn","x":13,"d":0.075},{"id":"A8","season":"Autumn","x":14.5,"d":0.07},{"id":"A8","season":"Autumn","x":16,"d":0.055},{"id":"A8","season":"Autumn","x":18,"d":0.035},{"id":"A8","season":"Autumn","x":20,"d":0.02},{"id":"A8","season":"Autumn","x":22,"d":0.01},{"id":"A8","season":"Autumn","x":24,"d":0.006},{"id":"A8","season":"Autumn","x":25.5,"d":0.006},{"id":"A8","season":"Autumn","x":27,"d":0.002},{"id":"A8","season":"Autumn","x":29,"d":0},
{"id":"A9","season":"Autumn","x":1,"d":0},{"id":"A9","season":"Autumn","x":3,"d":0.008},{"id":"A9","season":"Autumn","x":5,"d":0.025},{"id":"A9","season":"Autumn","x":7,"d":0.05},{"id":"A9","season":"Autumn","x":9,"d":0.072},{"id":"A9","season":"Autumn","x":11,"d":0.082},{"id":"A9","season":"Autumn","x":13,"d":0.075},{"id":"A9","season":"Autumn","x":15,"d":0.055},{"id":"A9","season":"Autumn","x":17,"d":0.032},{"id":"A9","season":"Autumn","x":19,"d":0.015},{"id":"A9","season":"Autumn","x":22,"d":0.004},{"id":"A9","season":"Autumn","x":25,"d":0},
{"id":"A10","season":"Autumn","x":2,"d":0},{"id":"A10","season":"Autumn","x":4,"d":0.006},{"id":"A10","season":"Autumn","x":6,"d":0.02},{"id":"A10","season":"Autumn","x":8,"d":0.042},{"id":"A10","season":"Autumn","x":10,"d":0.065},{"id":"A10","season":"Autumn","x":12,"d":0.078},{"id":"A10","season":"Autumn","x":13.5,"d":0.076},{"id":"A10","season":"Autumn","x":15,"d":0.062},{"id":"A10","season":"Autumn","x":17,"d":0.04},{"id":"A10","season":"Autumn","x":19,"d":0.02},{"id":"A10","season":"Autumn","x":22,"d":0.006},{"id":"A10","season":"Autumn","x":25,"d":0.002},{"id":"A10","season":"Autumn","x":28,"d":0}
]
},
"vconcat": [
{
"width": 415, "height": 355,
"data": {"name": "lean"},
"mark": {"type": "area", "interpolate": "monotone", "fillOpacity": 0.15, "clip": true},
"encoding": {
"x": {"field": "x", "type": "quantitative", "title": "Lean Mass (kg)",
 "scale": {"domain": [17.2, 92.8], "nice": false, "zero": false},
 "axis": {"values": [20,25,30,35,40,45,50,55,60,65,70,75,80,85,90], "labelExpr": "datum.value % 10 === 0 ? format(datum.value, 'd') : ''"}},
"y": {"field": "d", "type": "quantitative", "stack": null, "title": "Density",
 "scale": {"domain": [-0.008, 0.208], "nice": false, "zero": false},
 "axis": {"values": [0,0.025,0.05,0.075,0.1,0.125,0.15,0.175,0.2], "labelExpr": "abs(datum.value*20 - round(datum.value*20)) < 0.000001 ? format(datum.value, '.2f') : ''"}},
"color": {"field": "season", "type": "nominal", "scale": {"domain": ["Spring", "Autumn"], "range": ["#3AA895", "#2E1F88"]}, "legend": null},
"detail": {"field": "id"}
}
},
{
"width": 415, "height": 355,
"data": {"name": "body"},
"mark": {"type": "area", "interpolate": "monotone", "fillOpacity": 0.15, "clip": true},
"encoding": {
"x": {"field": "x", "type": "quantitative", "title": "Body Mass (kg)",
 "scale": {"domain": [38, 92], "nice": false, "zero": false},
 "axis": {"values": [40,45,50,55,60,65,70,75,80,85,90], "labelExpr": "datum.value % 10 === 0 ? format(datum.value, 'd') : ''"}},
"y": {"field": "d", "type": "quantitative", "stack": null, "title": "Density",
 "scale": {"domain": [-0.008, 0.208], "nice": false, "zero": false},
 "axis": {"values": [0,0.025,0.05,0.075,0.1,0.125,0.15,0.175,0.2], "labelExpr": "abs(datum.value*20 - round(datum.value*20)) < 0.000001 ? format(datum.value, '.2f') : ''"}},
"color": {"field": "season", "type": "nominal", "scale": {"domain": ["Spring", "Autumn"], "range": ["#3AA895", "#2E1F88"]}, "legend": null},
"detail": {"field": "id"}
}
},
{
"width": 415, "height": 355,
"data": {"name": "fat"},
"mark": {"type": "area", "interpolate": "monotone", "fillOpacity": 0.15, "clip": true},
"encoding": {
"x": {"field": "x", "type": "quantitative", "title": "Body Fat (%)",
 "scale": {"domain": [-0.65, 31.25], "nice": false, "zero": false},
 "axis": {"values": [0,2.5,5,7.5,10,12.5,15,17.5,20,22.5,25,27.5,30], "labelExpr": "datum.value % 5 === 0 ? format(datum.value, 'd') : ''"}},
"y": {"field": "d", "type": "quantitative", "stack": null, "title": "Density",
 "scale": {"domain": [-0.016, 0.416], "nice": false, "zero": false},
 "axis": {"values": [0,0.05,0.1,0.15,0.2,0.25,0.3,0.35,0.4], "labelExpr": "abs(datum.value*10 - round(datum.value*10)) < 0.000001 ? format(datum.value, '.1f') : ''"}},
"color": {"field": "season", "type": "nominal", "scale": {"domain": ["Spring", "Autumn"], "range": ["#3AA895", "#2E1F88"]},
 "legend": {"orient": "none", "legendX": 304, "legendY": 37, "title": null, "symbolType": "circle", "symbolSize": 70, "symbolOpacity": 1, "symbolStrokeWidth": 0, "labelFontSize": 22, "labelOffset": 10, "rowPadding": 4, "labelColor": "#111", "padding": 0}},
"detail": {"field": "id"}
}
}
],
"config": {
"font": "Liberation Sans",
"view": {"stroke": null},
"axis": {"grid": false, "domainColor": "#333", "domainWidth": 2, "tickColor": "#333", "tickWidth": 2, "tickSize": 8, "labelFontSize": 22, "labelColor": "#111", "titleFontSize": 22, "titleFontWeight": "normal", "titleColor": "#111", "labelOverlap": false, "labelFlush": false},
"axisX": {"labelAngle": 0, "labelBaseline": "alphabetic", "labelPadding": 39, "titleY": 101, "titleBaseline": "alphabetic"},
"axisY": {"labelAngle": 270, "labelAlign": "center", "labelBaseline": "alphabetic", "labelPadding": 32, "titleAngle": 270, "titleX": -94, "titleAlign": "center", "titleBaseline": "alphabetic"}
}
}
